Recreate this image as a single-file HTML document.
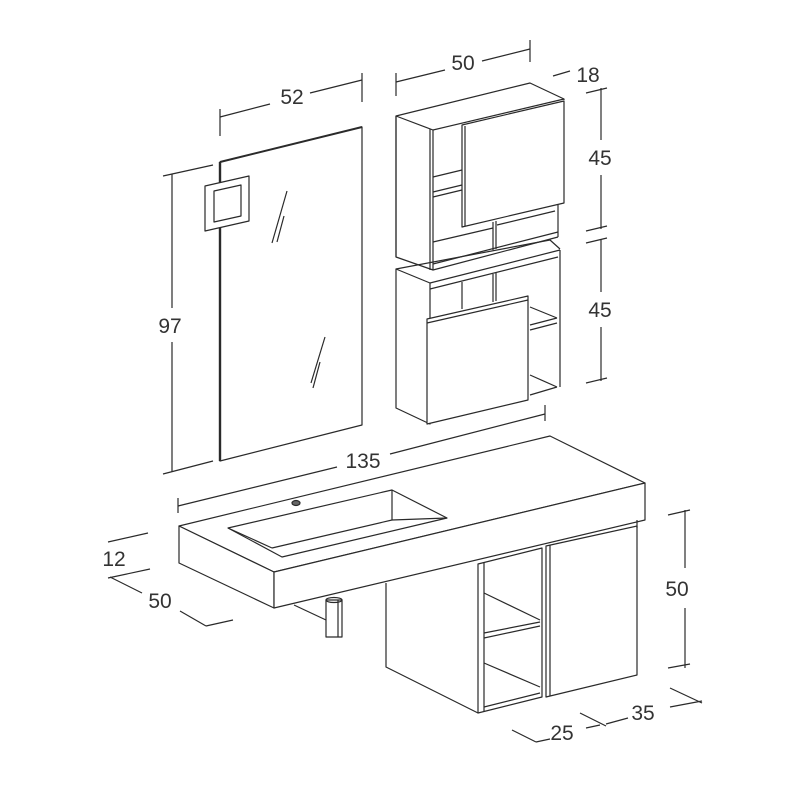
<!DOCTYPE html>
<html><head><meta charset="utf-8"><style>body{margin:0;background:#fff}svg{display:block}</style></head><body>
<svg width="800" height="800" viewBox="0 0 800 800" xmlns="http://www.w3.org/2000/svg">
<g fill="none" stroke="#2a2a2a" stroke-width="1.2" stroke-linejoin="round">
<!-- mirror -->
<polygon points="220,162 362,127 362,425 220,461" fill="#fff"/>
<line x1="220" y1="162" x2="220" y2="461" stroke-width="2.4"/>
<line x1="220" y1="162" x2="362" y2="127" stroke-width="2"/>
<polygon points="205,186 249,176 249,221 205,231" fill="#fff"/>
<polygon points="214,191 241,185 241,216 214,222"/>
<line x1="287" y1="191" x2="272" y2="243"/><line x1="284" y1="216" x2="277" y2="242"/>
<line x1="325" y1="337" x2="311" y2="383"/><line x1="320" y1="362" x2="313" y2="388"/>
<!-- 52 / 97 dims -->
<line x1="220" y1="117" x2="270" y2="104"/><line x1="310" y1="93" x2="362" y2="80"/>
<line x1="220" y1="109" x2="220" y2="136"/><line x1="362" y1="73" x2="362" y2="102"/>
<line x1="172" y1="174" x2="172" y2="308"/><line x1="172" y1="342" x2="172" y2="472"/>
<line x1="163" y1="176" x2="213" y2="165"/><line x1="163" y1="474" x2="213" y2="461"/>
<!-- upper cabinet -->
<polyline points="396,116 530,83 564,99 564,100"/>
<polygon points="396,116 433,130 433,270 396,257" fill="#fff"/>
<line x1="396" y1="116" x2="396" y2="257"/>
<line x1="433" y1="130" x2="564" y2="99"/>
<line x1="430" y1="129" x2="430" y2="270"/>
<polygon points="462,125 564,101 564,203 462,227" fill="#fff"/>
<line x1="465" y1="126" x2="465" y2="226"/>
<line x1="558" y1="205" x2="558" y2="237"/>
<line x1="433" y1="270" x2="558" y2="237"/>
<line x1="433" y1="264" x2="558" y2="232"/>
<line x1="433" y1="177" x2="462" y2="170"/><line x1="433" y1="197" x2="462" y2="190"/>
<line x1="433" y1="192" x2="462" y2="185"/>
<line x1="433" y1="242" x2="493" y2="228"/><line x1="493" y1="222" x2="493" y2="250"/><line x1="496" y1="221" x2="496" y2="249"/>
<line x1="497" y1="225" x2="555" y2="211"/>
<!-- lower cabinet -->
<polyline points="396,269 550,240 560,249"/>
<polygon points="396,269 430,283 430,424 396,408" fill="#fff"/>
<line x1="430" y1="283" x2="560" y2="250"/>
<line x1="430" y1="289" x2="558" y2="257"/>
<line x1="560" y1="250" x2="560" y2="387"/>
<line x1="493" y1="274" x2="493" y2="302"/><line x1="496" y1="273" x2="496" y2="301"/>
<line x1="462" y1="282" x2="462" y2="309"/>
<polygon points="427,319 528,296 528,400 427,424" fill="#fff"/>
<line x1="427" y1="323" x2="528" y2="300"/>
<line x1="530" y1="307" x2="557" y2="318"/><line x1="530" y1="325" x2="557" y2="318"/><line x1="530" y1="330" x2="557" y2="323"/>
<line x1="530" y1="375" x2="557" y2="387"/><line x1="530" y1="395" x2="557" y2="387"/>
<!-- 50 / 18 / 45 dims -->
<line x1="396" y1="73" x2="396" y2="96"/><line x1="396" y1="82" x2="445" y2="70"/><line x1="482" y1="61" x2="530" y2="49"/><line x1="530" y1="40" x2="530" y2="62"/>
<line x1="553" y1="76" x2="570" y2="71"/>
<line x1="601" y1="88" x2="601" y2="140"/><line x1="601" y1="175" x2="601" y2="229"/>
<line x1="586" y1="93" x2="607" y2="88"/><line x1="586" y1="231" x2="607" y2="226"/>
<line x1="601" y1="239" x2="601" y2="292"/><line x1="601" y1="327" x2="601" y2="381"/>
<line x1="586" y1="243" x2="607" y2="238"/><line x1="586" y1="383" x2="607" y2="378"/>
<!-- 135 dim -->
<line x1="178" y1="506" x2="337" y2="467"/><line x1="390" y1="454" x2="545" y2="414"/>
<line x1="178" y1="498" x2="178" y2="513"/><line x1="545" y1="405" x2="545" y2="421"/>
<!-- vanity -->
<polygon points="179,526 550,436 645,483 274,572" fill="#fff"/>
<polygon points="179,526 274,572 274,608 179,563" fill="#fff"/>
<polygon points="274,572 645,483 645,520 274,608" fill="#fff"/>
<polygon points="228,528 392,490 447,518 282,557"/>
<line x1="392" y1="490" x2="392" y2="520"/><line x1="392" y1="520" x2="447" y2="518"/>
<line x1="272" y1="548" x2="392" y2="520"/><line x1="228" y1="528" x2="272" y2="548"/>
<ellipse cx="296" cy="503" rx="4" ry="2.5" fill="#666"/>
<line x1="294" y1="605" x2="326" y2="620"/>
<rect x="326" y="600" width="16" height="37" fill="#fff"/>
<ellipse cx="334" cy="600" rx="8" ry="2.5"/>
<line x1="338" y1="600" x2="338" y2="637"/>
<!-- base cabinets -->
<polyline points="386,583 386,667 478,713"/>
<polygon points="478,564 542,548 542,697 478,713" fill="#fff"/>
<line x1="484" y1="562" x2="484" y2="711"/>
<line x1="484" y1="593" x2="540" y2="620"/>
<line x1="484" y1="633" x2="540" y2="622"/><line x1="484" y1="638" x2="540" y2="626"/>
<line x1="484" y1="663" x2="540" y2="687"/>
<line x1="484" y1="707" x2="540" y2="693"/>
<polygon points="546,546 637,526 637,675 546,697" fill="#fff"/>
<line x1="550" y1="545" x2="550" y2="696"/>
<line x1="637" y1="520" x2="637" y2="528"/>
<!-- bottom dims -->
<line x1="108" y1="542" x2="148" y2="533"/><line x1="108" y1="578" x2="150" y2="569"/>
<line x1="110" y1="577" x2="142" y2="593"/><line x1="180" y1="611" x2="206" y2="626"/><line x1="206" y1="626" x2="233" y2="620"/>
<line x1="685" y1="510" x2="685" y2="568"/><line x1="685" y1="608" x2="685" y2="668"/>
<line x1="668" y1="515" x2="690" y2="510"/><line x1="668" y1="668" x2="690" y2="664"/>
<line x1="670" y1="688" x2="702" y2="703"/><line x1="670" y1="707" x2="702" y2="701"/>
<line x1="580" y1="713" x2="606" y2="726"/><line x1="606" y1="724" x2="628" y2="718"/><line x1="586" y1="728" x2="600" y2="725"/>
<line x1="512" y1="730" x2="536" y2="742"/><line x1="536" y1="742" x2="550" y2="739"/>
</g>
<g font-family="'Liberation Sans', sans-serif" font-size="21" fill="#333" text-anchor="middle">
<text x="292" y="104">52</text>
<text x="170" y="333">97</text>
<text x="463" y="70">50</text>
<text x="588" y="82">18</text>
<text x="600" y="165">45</text>
<text x="600" y="317">45</text>
<text x="363" y="468">135</text>
<text x="114" y="566">12</text>
<text x="160" y="608">50</text>
<text x="677" y="596">50</text>
<text x="643" y="720">35</text>
<text x="562" y="740">25</text>
</g>
</svg>
</body></html>
